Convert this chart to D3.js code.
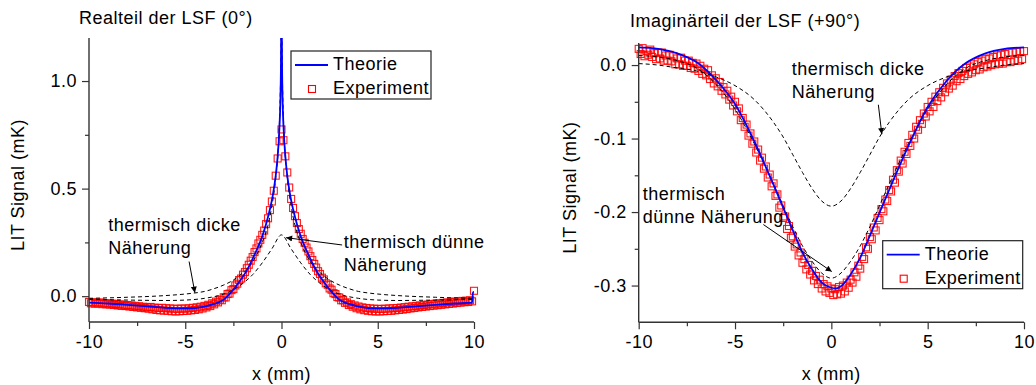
<!DOCTYPE html>
<html>
<head>
<meta charset="utf-8">
<script src="https://cdn.jsdelivr.net/npm/d3@7"></script>
<style>
  body { margin: 0; background: #fff; }
  svg text { font-family: "Liberation Sans", Arial, sans-serif; font-size: 18px; letter-spacing: 0.5px; fill: #000; }
</style>
</head>
<body>
<svg id="chart" width="1036" height="385"></svg>
<script>
// ---- shared ticks ----
const xMajor = [-10, -5, 0, 5, 10];
const xMinor = [-7.5, -2.5, 2.5, 7.5];
const reYMajor = [0, 0.5, 1.0];
const reYMinor = [0.25, 0.75];
const imYMajor = [0, -0.1, -0.2, -0.3];
const imYMinor = [-0.05, -0.15, -0.25];

// experiment sampling grid
const expStart = -10;
const expStep = 0.1;

// ---- Realteil (0°) ----
const reTheoryX = [-10, -9, -8, -7, -6, -5, -4, -3.5, -3, -2.6, -2.2, -1.8, -1.4, -1, -0.8, -0.6, -0.45, -0.3, -0.2, -0.12, -0.06, -0.03, 0,
  0.03, 0.06, 0.12, 0.2, 0.3, 0.45, 0.6, 0.8, 1, 1.4, 1.8, 2.2, 2.6, 3, 3.5, 4, 5, 6, 7, 8, 9, 9.9, 9.95, 10];
const reTheoryV = [-0.030, -0.034, -0.040, -0.047, -0.054, -0.057, -0.048, -0.036, -0.016, 0.020, 0.066, 0.120, 0.193, 0.278, 0.335, 0.405, 0.47, 0.56, 0.65, 0.76, 0.90, 1.05, 1.40,
  1.05, 0.90, 0.76, 0.65, 0.56, 0.47, 0.405, 0.335, 0.278, 0.193, 0.120, 0.066, 0.020, -0.016, -0.036, -0.048, -0.057, -0.054, -0.047, -0.040, -0.034, -0.030, 0.018, 0.020];

const reThinX = [-10, -8, -6, -5, -4, -3, -2.5, -2, -1.5, -1, -0.5, 0, 0.5, 1, 1.5, 2, 2.5, 3, 4, 5, 6, 8, 10];
const reThinV = [-0.015, -0.018, -0.020, -0.018, -0.010, 0.010, 0.030, 0.060, 0.100, 0.155, 0.220, 0.285,
  0.220, 0.155, 0.100, 0.060, 0.030, 0.010, -0.010, -0.018, -0.020, -0.018, -0.015];

const reThickX = [-10, -8, -6, -5, -4.5, -4, -3.5, -3, -2.5, -2, -1.5, -1, -0.7, -0.5, -0.3, -0.15, -0.05, 0,
  0.05, 0.15, 0.3, 0.5, 0.7, 1, 1.5, 2, 2.5, 3, 3.5, 4, 4.5, 5, 6, 8, 10];
const reThickV = [-0.010, -0.005, 0.003, 0.010, 0.015, 0.022, 0.035, 0.052, 0.075, 0.110, 0.160, 0.250, 0.330, 0.420, 0.550, 0.720, 1.000, 1.300,
  1.000, 0.720, 0.550, 0.420, 0.330, 0.250, 0.160, 0.110, 0.075, 0.052, 0.035, 0.022, 0.015, 0.010, 0.003, -0.005, -0.010];

const reExp = [
  -0.027, -0.033, -0.028, -0.035, -0.030, -0.034, -0.029, -0.037, -0.032, -0.038,
  -0.033, -0.039, -0.035, -0.041, -0.036, -0.043, -0.038, -0.045, -0.040, -0.046,
  -0.041, -0.048, -0.043, -0.050, -0.045, -0.052, -0.047, -0.054, -0.049, -0.056,
  -0.051, -0.058, -0.050, -0.061, -0.053, -0.064, -0.055, -0.066, -0.054, -0.067,
  -0.056, -0.068, -0.057, -0.070, -0.058, -0.071, -0.059, -0.070, -0.057, -0.069,
  -0.058, -0.068, -0.056, -0.066, -0.054, -0.064, -0.052, -0.061, -0.049, -0.057,
  -0.045, -0.052, -0.040, -0.046, -0.033, -0.038, -0.025, -0.029, -0.016, -0.019,
  -0.005, -0.006, 0.010, 0.012, 0.028, 0.033, 0.050, 0.058, 0.075, 0.082,
  0.100, 0.112, 0.130, 0.146, 0.165, 0.182, 0.205, 0.222, 0.245, 0.262,
  0.285, 0.305, 0.335, 0.362, 0.400, 0.440, 0.490, 0.560, 0.640, 0.720,
  0.775,
  0.725, 0.650, 0.575, 0.505, 0.452, 0.410, 0.372, 0.340, 0.312, 0.290,
  0.266, 0.248, 0.226, 0.208, 0.186, 0.168, 0.150, 0.133, 0.116, 0.103,
  0.086, 0.078, 0.060, 0.053, 0.036, 0.030, 0.014, 0.010, -0.004, -0.006,
  -0.019, -0.019, -0.031, -0.029, -0.041, -0.037, -0.049, -0.043, -0.056, -0.048,
  -0.061, -0.052, -0.065, -0.055, -0.068, -0.057, -0.070, -0.058, -0.071, -0.059,
  -0.071, -0.059, -0.070, -0.058, -0.069, -0.057, -0.068, -0.056, -0.066, -0.055,
  -0.064, -0.053, -0.062, -0.051, -0.060, -0.049, -0.057, -0.047, -0.055, -0.045,
  -0.052, -0.043, -0.050, -0.041, -0.048, -0.039, -0.046, -0.037, -0.044, -0.035,
  -0.042, -0.033, -0.040, -0.031, -0.038, -0.029, -0.036, -0.027, -0.034, -0.025,
  -0.032, -0.024, -0.030, -0.022, -0.028, -0.021, -0.027, -0.019, -0.024, 0.025
];

// ---- Imaginärteil (+90°) ----
const imTheoryX = [-10, -9, -8, -7, -6, -5, -4, -3, -2, -1.5, -1, -0.5, 0, 0.25, 0.5, 1, 1.5, 2, 3, 4, 5, 6, 7, 8, 9, 10];
const imTheoryV = [0.024, 0.022, 0.016, 0.004, -0.020, -0.053, -0.104, -0.163, -0.225, -0.255, -0.278, -0.296, -0.303, -0.304, -0.301,
  -0.285, -0.262, -0.232, -0.170, -0.110, -0.057, -0.021, 0.003, 0.016, 0.022, 0.024];

const imThinX = [-10, -9, -8, -7, -6, -5, -4, -3, -2, -1.5, -1, -0.5, 0, 0.5, 1, 1.5, 2, 3, 4, 5, 6, 7, 8, 9, 10];
const imThinV = [0.013, 0.011, 0.006, -0.004, -0.026, -0.060, -0.107, -0.162, -0.220, -0.246, -0.267, -0.283, -0.290,
  -0.283, -0.267, -0.246, -0.220, -0.162, -0.107, -0.060, -0.026, -0.004, 0.006, 0.011, 0.013];

const imThickX = [-10, -9, -8, -7, -6, -5, -4, -3, -2.5, -2, -1.5, -1, -0.5, 0, 0.5, 1, 1.5, 2, 2.5, 3, 4, 5, 6, 7, 8, 9, 10];
const imThickV = [0.002, 0.000, -0.004, -0.008, -0.016, -0.028, -0.047, -0.078, -0.098, -0.122, -0.146, -0.168, -0.185, -0.192,
  -0.185, -0.168, -0.146, -0.122, -0.098, -0.078, -0.047, -0.028, -0.016, -0.008, -0.004, 0.000, 0.002];

const imExp = [
  0.022, 0.015, 0.023, 0.012, 0.019, 0.014, 0.021, 0.011, 0.016, 0.008,
  0.017, 0.009, 0.017, 0.006, 0.013, 0.006, 0.014, 0.005, 0.012, 0.001,
  0.009, 0.001, 0.010, -0.001, 0.006, -0.001, 0.006, -0.004, 0.003, -0.005,
  0.002, -0.008, -0.001, -0.012, -0.005, -0.014, -0.007, -0.019, -0.014, -0.025,
  -0.018, -0.029, -0.023, -0.035, -0.030, -0.040, -0.035, -0.047, -0.043, -0.055,
  -0.050, -0.063, -0.059, -0.075, -0.072, -0.084, -0.081, -0.096, -0.093, -0.107,
  -0.104, -0.119, -0.115, -0.130, -0.126, -0.141, -0.138, -0.153, -0.149, -0.165,
  -0.161, -0.178, -0.176, -0.194, -0.191, -0.208, -0.206, -0.223, -0.219, -0.235,
  -0.233, -0.247, -0.244, -0.259, -0.255, -0.269, -0.264, -0.278, -0.272, -0.285,
  -0.280, -0.293, -0.287, -0.298, -0.292, -0.304, -0.298, -0.308, -0.301, -0.310,
  -0.304,
  -0.313, -0.305, -0.312, -0.302, -0.311, -0.300, -0.308, -0.296, -0.303, -0.292,
  -0.296, -0.282, -0.288, -0.273, -0.277, -0.261, -0.264, -0.248, -0.250, -0.234,
  -0.237, -0.221, -0.225, -0.208, -0.211, -0.196, -0.199, -0.183, -0.185, -0.170,
  -0.172, -0.156, -0.160, -0.143, -0.145, -0.130, -0.134, -0.118, -0.121, -0.106,
  -0.110, -0.095, -0.100, -0.084, -0.088, -0.075, -0.080, -0.066, -0.070, -0.057,
  -0.063, -0.050, -0.057, -0.043, -0.049, -0.037, -0.044, -0.031, -0.037, -0.025,
  -0.032, -0.020, -0.028, -0.015, -0.022, -0.011, -0.019, -0.008, -0.015, -0.004,
  -0.012, -0.002, -0.010, 0.001, -0.007, 0.004, -0.006, 0.006, -0.003, 0.008,
  -0.002, 0.009, 0.000, 0.011, 0.001, 0.013, 0.002, 0.014, 0.002, 0.015,
  0.004, 0.017, 0.004, 0.017, 0.006, 0.018, 0.006, 0.019, 0.008, 0.019
];

const legendLabels = ["Theorie", "Experiment"];

const svg = d3.select("#chart");
svg.append("rect").attr("width", 1036).attr("height", 385).attr("fill", "#fff");

svg.append("defs").append("marker")
  .attr("id", "arrow")
  .attr("viewBox", "0 0 10 10")
  .attr("refX", 10).attr("refY", 5)
  .attr("markerWidth", 9).attr("markerHeight", 6)
  .attr("markerUnits", "userSpaceOnUse")
  .attr("orient", "auto")
  .append("path").attr("d", "M0,0L10,5L0,10z").attr("fill", "#000");

const hyphen = f => d => f(d).replace("\u2212", "-");
const sq = 7; // marker size

function drawPanel(p) {
  const g = svg.append("g");
  const x = d3.scaleLinear().domain([-10, 10]).range([p.left, p.right]);
  const y = d3.scaleLinear().domain(p.yDomain).range([p.bottom, p.top]);

  const clipId = "clip" + p.id;
  svg.select("defs").append("clipPath").attr("id", clipId)
    .append("rect").attr("x", p.left).attr("y", p.top)
    .attr("width", p.right - p.left).attr("height", p.bottom - p.top);

  const line = d3.line().x(d => x(d[0])).y(d => y(d[1])).curve(d3.curveMonotoneX);
  const pairs = (xs, vs) => xs.map((v, i) => [v, vs[i]]);

  // experiment squares
  const exp = p.exp.map((v, i) => [expStart + i * expStep, v]);
  g.append("g").selectAll("rect").data(exp).enter().append("rect")
    .attr("x", d => x(d[0]) - sq / 2).attr("y", d => y(d[1]) - sq / 2)
    .attr("width", sq).attr("height", sq)
    .attr("fill", "none").attr("stroke", "#ff0000").attr("stroke-opacity", 0.9).attr("stroke-width", 1.1);

  const plot = g.append("g").attr("clip-path", `url(#${clipId})`);
  [p.thin, p.thick].forEach(s => {
    plot.append("path").datum(pairs(s[0], s[1])).attr("d", line)
      .attr("fill", "none").attr("stroke", "#000").attr("stroke-width", 1).attr("stroke-dasharray", "4,3");
  });
  plot.append("path").datum(pairs(p.theory[0], p.theory[1])).attr("d", line)
    .attr("fill", "none").attr("stroke", "#0000ff").attr("stroke-width", 1.8);

  // axes
  const fmt = hyphen(d3.format(".1f"));
  const ax = g.append("g").attr("transform", `translate(0,${p.bottom})`)
    .call(d3.axisBottom(x).tickValues(xMajor).tickSize(7).tickPadding(6).tickFormat(hyphen(d3.format("d"))));
  g.append("g").attr("transform", `translate(0,${p.bottom})`)
    .call(d3.axisBottom(x).tickValues(xMinor).tickSize(4).tickFormat(""))
    .select(".domain").remove();
  const ay = g.append("g").attr("transform", `translate(${p.left},0)`)
    .call(d3.axisLeft(y).tickValues(p.yMajor).tickSize(7).tickPadding(5).tickFormat(fmt));
  g.append("g").attr("transform", `translate(${p.left},0)`)
    .call(d3.axisLeft(y).tickValues(p.yMinor).tickSize(4).tickFormat(""))
    .select(".domain").remove();
  g.selectAll(".domain").attr("stroke", "#333").attr("stroke-width", 1.4);
  g.selectAll(".tick line").attr("stroke", "#333").attr("stroke-width", 1.2);
  g.selectAll(".tick text").attr("font-family", null).attr("font-size", null).attr("fill", "#000");
  ax.selectAll(".domain").attr("d", `M${p.left},0H${p.right}`);
  ay.selectAll(".domain").attr("d", `M0,${p.bottom}V${p.top}`);

  // titles
  g.append("text").attr("x", p.titleX).attr("y", p.titleY).text(p.title);
  g.append("text").attr("x", x(0)).attr("y", 380).attr("text-anchor", "middle").text("x (mm)");
  g.append("text").attr("transform", `translate(${p.yLabelX},${(p.top + p.bottom) / 2 + 5}) rotate(-90)`)
    .attr("text-anchor", "middle").text("LIT Signal (mK)");

  // annotations
  p.notes.forEach(n => {
    const t = g.append("text").attr("x", x(n.x)).attr("y", y(n.y));
    n.lines.forEach((s, i) => t.append("tspan").attr("x", x(n.x)).attr("dy", i ? 23 : 0).text(s));
    g.append("line").attr("x1", x(n.from[0])).attr("y1", y(n.from[1]))
      .attr("x2", x(n.to[0])).attr("y2", y(n.to[1]))
      .attr("stroke", "#000").attr("stroke-width", 1).attr("marker-end", "url(#arrow)");
  });

  // legend
  const lg = g.append("g").attr("transform", `translate(${p.legend[0]},${p.legend[1]})`);
  lg.append("rect").attr("width", 140).attr("height", 48).attr("fill", "#fff").attr("stroke", "#222").attr("stroke-width", 1.2);
  lg.append("line").attr("x1", 4).attr("x2", 37).attr("y1", 14).attr("y2", 14).attr("stroke", "#0000ff").attr("stroke-width", 1.8);
  lg.append("rect").attr("x", 21 - sq / 2).attr("y", 38 - sq / 2).attr("width", sq).attr("height", sq)
    .attr("fill", "none").attr("stroke", "#ff0000").attr("stroke-width", 1.1);
  lg.selectAll("text.lg").data(legendLabels).enter().append("text").attr("class", "lg")
    .attr("x", 42).attr("y", (d, i) => 19 + i * 24).text(d => d);
}

drawPanel({
  id: "re", left: 89, right: 474, top: 38, bottom: 322, yDomain: [-0.12, 1.2],
  yMajor: reYMajor, yMinor: reYMinor,
  theory: [reTheoryX, reTheoryV], thin: [reThinX, reThinV], thick: [reThickX, reThickV], exp: reExp,
  title: "Realteil der LSF (0°)", titleX: 79, titleY: 24, yLabelX: 24,
  legend: [291, 51],
  notes: [
    { x: -9.0, y: 0.303, lines: ["thermisch dicke", "Näherung"], from: [-4.8, 0.161], to: [-4.5, 0.016] },
    { x: 3.24, y: 0.224, lines: ["thermisch dünne", "Näherung"], from: [3.15, 0.238], to: [0.24, 0.272] }
  ]
});

drawPanel({
  id: "im", left: 638.7, right: 1024, top: 43, bottom: 322.3, yDomain: [-0.35, 0.03],
  yMajor: imYMajor, yMinor: imYMinor,
  theory: [imTheoryX, imTheoryV], thin: [imThinX, imThinV], thick: [imThickX, imThickV], exp: imExp,
  title: "Imaginärteil der LSF (+90°)", titleX: 630, titleY: 27, yLabelX: 576,
  legend: [882.7, 240.7],
  notes: [
    { x: -2.05, y: -0.014, lines: ["thermisch dicke", "Näherung"], from: [2.44, -0.054], to: [2.62, -0.094] },
    { x: -9.79, y: -0.184, lines: ["thermisch", "dünne Näherung"], from: [-3.53, -0.217], to: [0.02, -0.281] }
  ]
});
</script>
</body>
</html>
